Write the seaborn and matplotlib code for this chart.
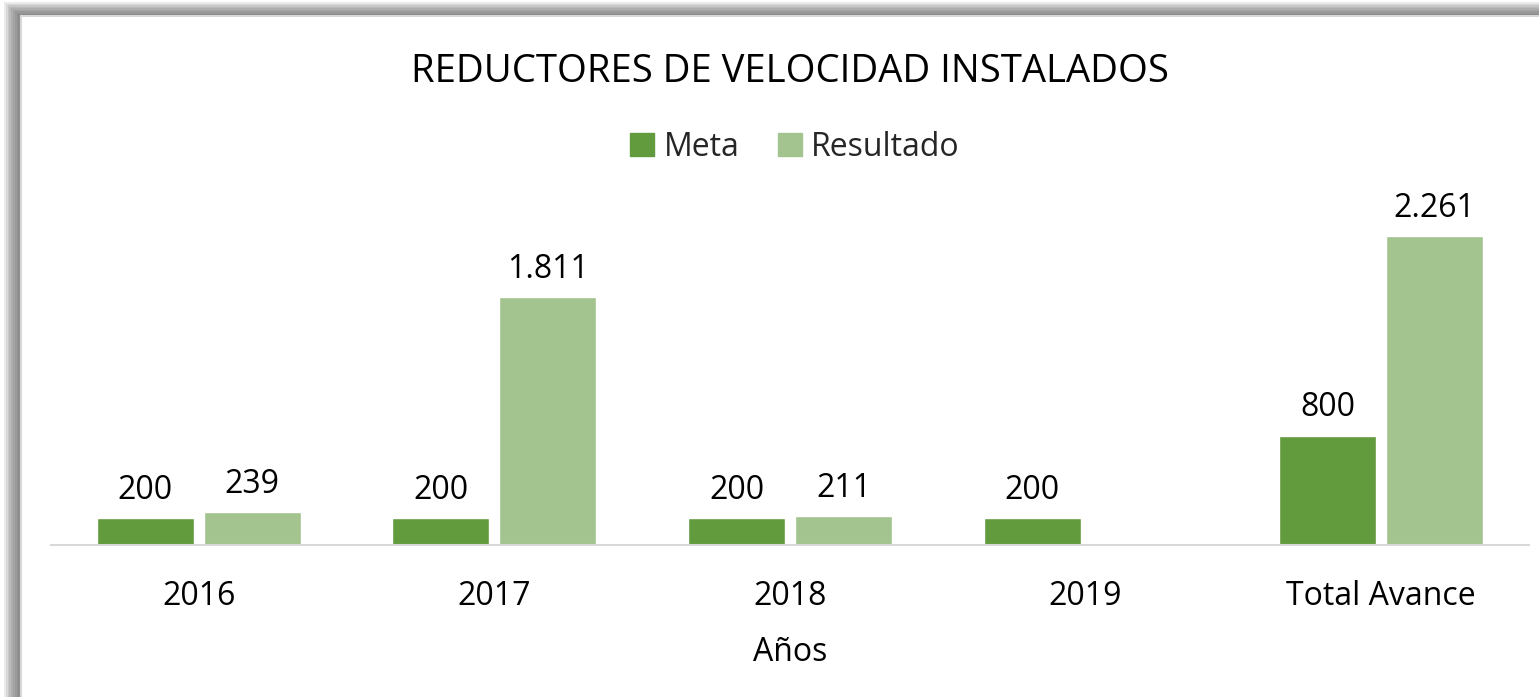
import numpy as np
import pandas as pd
import matplotlib.pyplot as plt
import seaborn as sns
from matplotlib.patches import Rectangle

categories = ["2016", "2017", "2018", "2019", "Total Avance"]
meta = [200, 200, 200, 200, 800]
resultado = [239, 1811, 211, np.nan, 2261]
series = ["Meta", "Resultado"]
colors = ["#629a3e", "#a3c48f"]

W, H = 1539, 697


def fmt(v):
    return f"{int(round(v)):,}".replace(",", ".")


df = pd.DataFrame({
    "Año": categories * 2,
    "Serie": [series[0]] * len(categories) + [series[1]] * len(categories),
    "Valor": meta + resultado,
})

sns.set_theme(style="white")
plt.rcParams["font.family"] = ["Open Sans", "DejaVu Sans"]

fig = plt.figure(figsize=(W / 100, H / 100), dpi=100)

# gray shadow frame on the top and left edges
for i in range(9):
    fig.patches.append(Rectangle(((4 + i * 1.8) / W, 0), 1.1, 1 - (2 + i * 1.5) / H,
                                 transform=fig.transFigure, color="#5f5f5f",
                                 alpha=0.13, lw=0, zorder=0))
fig.patches.append(Rectangle((21 / W, -0.05), 1.1, 1.05 - 16 / H, transform=fig.transFigure,
                             facecolor="white", edgecolor="#d8d8d8", lw=1.5, zorder=1))

ax = fig.add_axes([51 / W, 152 / H, 1478 / W, 342 / H])
ax.set_zorder(2)
ax.patch.set_alpha(0)

sns.barplot(data=df, x="Año", y="Valor", hue="Serie", palette=colors,
            width=0.724, gap=0.093, ax=ax, legend=False, saturation=1)

ax.set_ylim(0, 2500)
ax.set_xlim(-0.5, 4.5)

# value labels above each drawn bar
for bar in ax.patches:
    h = bar.get_height()
    if np.isfinite(h) and h > 0:
        ax.annotate(fmt(h), (bar.get_x() + bar.get_width() / 2, h),
                    xytext=(0, 8), textcoords="offset points",
                    ha="center", va="bottom", fontsize=23, color="black")

sns.despine(ax=ax, left=True)
ax.spines["bottom"].set_color("#d9d9d9")
ax.spines["bottom"].set_linewidth(1.5)
ax.set_yticks([])
ax.set_ylabel("")
ax.tick_params(axis="x", length=0, pad=25, labelsize=23, colors="black")
ax.set_xlabel("Años", fontsize=23, color="black")
ax.xaxis.set_label_coords(0.5, -0.265)

fig.text(790 / W, 1 - 72 / H, "REDUCTORES DE VELOCIDAD INSTALADOS",
         ha="center", va="center", fontsize=27.5, color="black")

handles = [Rectangle((0, 0), 1, 1, color=c) for c in colors]
fig.legend(handles, series, loc="center", bbox_to_anchor=(795 / W, 1 - 147 / H),
           ncol=2, frameon=False, fontsize=23, handlelength=0.75, handleheight=0.75,
           handletextpad=0.3, columnspacing=1.2)

fig.savefig("out.png", dpi=100)
